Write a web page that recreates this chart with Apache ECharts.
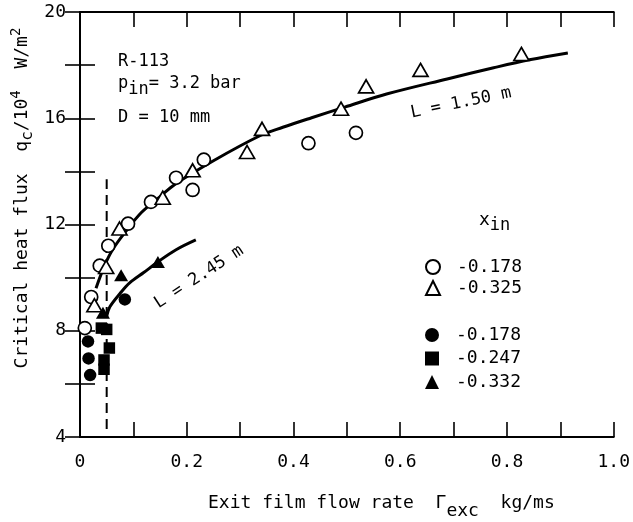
<!DOCTYPE html>
<html>
<head>
<meta charset="utf-8">
<script src="https://cdn.jsdelivr.net/npm/echarts@6/dist/echarts.min.js"></script>
<style>html,body{margin:0;padding:0;background:#fff}#c{width:633px;height:522px}</style>
</head>
<body>
<div id="c"></div>
<script>
// ---- data ----
const xTickValues = [0, 0.2, 0.4, 0.6, 0.8, 1.0];
const xTickLabels = ['0', '0.2', '0.4', '0.6', '0.8', '1.0'];
const yTickValues = [4, 8, 12, 16, 20];
const yTickLabels = ['4', '8', '12', '16', '20'];

// open circles, x_in = -0.178 (L = 1.50 m)
const openCircle = [[0.009,8.1],[0.021,9.27],[0.037,10.45],[0.053,11.2],[0.090,12.03],[0.133,12.85],[0.180,13.76],[0.211,13.3],[0.232,14.44],[0.428,15.06],[0.517,15.45]];
// open triangles, x_in = -0.325 (L = 1.50 m)
const openTriangle = [[0.027,8.96],[0.049,10.4],[0.074,11.85],[0.155,13.01],[0.211,14.04],[0.313,14.73],[0.341,15.6],[0.489,16.36],[0.536,17.2],[0.638,17.82],[0.827,18.42]];
// filled circles, x_in = -0.178 (L = 2.45 m)
const filledCircle = [[0.015,7.6],[0.016,6.96],[0.019,6.33],[0.084,9.18]];
// filled squares, x_in = -0.247
const filledSquare = [[0.040,8.1],[0.050,8.05],[0.055,7.35],[0.045,6.9],[0.045,6.55]];
// filled triangles, x_in = -0.332
const filledTriangle = [[0.043,8.68],[0.077,10.09],[0.146,10.59]];

// fitted curves
const curveL150 = [[0.030,9.6],[0.046,10.45],[0.061,11.05],[0.085,11.72],[0.115,12.45],[0.15,13.05],[0.177,13.5],[0.25,14.4],[0.338,15.35],[0.38,15.66],[0.434,16.02],[0.496,16.42],[0.576,16.92],[0.688,17.48],[0.775,17.9],[0.842,18.2],[0.914,18.46]];
const curveL245 = [[0.050,8.55],[0.056,8.9],[0.075,9.4],[0.093,9.8],[0.12,10.2],[0.145,10.58],[0.18,11.05],[0.217,11.42]];
// vertical dashed line
const dashedLine = [[0.05,4.3],[0.05,13.7]];

const legendNames = { oc: '-0.178', ot: '-0.325', fc: '-0.178', fs: '-0.247', ft: '-0.332' };

// ---- chart ----
const FONT = 'DejaVu Sans Mono';
const chart = echarts.init(document.getElementById('c'), null, { renderer: 'canvas' });

function lbl(list, labels) {
  return function (v) {
    const i = list.findIndex(t => Math.abs(t - v) < 1e-9);
    return i >= 0 ? labels[i] : '';
  };
}

const axisLine = { show: true, lineStyle: { color: '#000', width: 2 } };
const axisTick = { show: true, inside: true, length: 15, lineStyle: { color: '#000', width: 1.6 } };

const openStyle = { color: '#fff', borderColor: '#000', borderWidth: 1.7, opacity: 1 };
const fillStyle = { color: '#000', borderColor: '#000', borderWidth: 0, opacity: 1 };

chart.setOption({
  animation: false,
  backgroundColor: '#fff',
  grid: { left: 80, right: 15, top: 12, bottom: 85 },
  xAxis: [
    { type: 'value', min: 0, max: 1, interval: 0.1, position: 'bottom', axisLine, axisTick,
      splitLine: { show: false },
      axisLabel: { formatter: lbl(xTickValues, xTickLabels), color: '#000', fontFamily: FONT, fontSize: 18, margin: 16, showMaxLabel: true } },
    { type: 'value', min: 0, max: 1, interval: 0.1, position: 'top', axisLine, axisTick,
      splitLine: { show: false }, axisLabel: { show: false } }
  ],
  yAxis: [
    { type: 'value', min: 4, max: 20, interval: 2, position: 'left', axisLine, axisTick,
      splitLine: { show: false },
      axisLabel: { formatter: lbl(yTickValues, yTickLabels), color: '#000', fontFamily: FONT, fontSize: 18, margin: 14 } },
    { type: 'value', min: 4, max: 20, interval: 2, position: 'right', axisLine, axisTick,
      splitLine: { show: false }, axisLabel: { show: false } }
  ],
  legend: [
    { data: ['oc', 'ot'], orient: 'vertical', left: 420, top: 253, itemWidth: 14, itemHeight: 14, itemGap: 3,
      selectedMode: false, formatter: n => legendNames[n],
      textStyle: { fontFamily: FONT, fontSize: 18, color: '#000', lineHeight: 18, padding: [0, 0, 0, 12] } },
    { data: ['fc', 'fs', 'ft'], orient: 'vertical', left: 420, top: 321, itemWidth: 14, itemHeight: 14, itemGap: 5.5,
      selectedMode: false, formatter: n => legendNames[n],
      textStyle: { fontFamily: FONT, fontSize: 18, color: '#000', lineHeight: 18, padding: [0, 0, 0, 12] } }
  ],
  series: [
    { type: 'line', name: 'L150', data: curveL150, smooth: 0.35, showSymbol: false, z: 2,
      lineStyle: { color: '#000', width: 3 } },
    { type: 'line', name: 'L245', data: curveL245, smooth: 0.35, showSymbol: false, z: 2,
      lineStyle: { color: '#000', width: 3 } },
    { type: 'line', name: 'dash', data: dashedLine, showSymbol: false, z: 2,
      lineStyle: { color: '#000', width: 2, type: [10, 6] } },
    { type: 'scatter', z: 5, name: 'oc', data: openCircle, symbol: 'circle', symbolSize: 13, itemStyle: openStyle },
    { type: 'scatter', z: 5, name: 'ot', data: openTriangle, symbol: 'triangle', symbolSize: [15, 13], itemStyle: openStyle },
    { type: 'scatter', z: 5, name: 'fc', data: filledCircle, symbol: 'circle', symbolSize: 12.5, itemStyle: fillStyle },
    { type: 'scatter', z: 5, name: 'fs', data: filledSquare, symbol: 'rect', symbolSize: 11.5, itemStyle: fillStyle },
    { type: 'scatter', z: 5, name: 'ft', data: filledTriangle, symbol: 'triangle', symbolSize: [14, 12], itemStyle: fillStyle }
  ],
  graphic: [
    { type: 'text', x: 118, y: 62, style: { text: 'R-113', font: '17px ' + FONT, fill: '#000', verticalAlign: 'middle' } },
    { type: 'text', x: 118, y: 84, style: {
        text: '{a|p}{s|in}{a|= 3.2 bar}', verticalAlign: 'middle', fill: '#000',
        rich: { a: { font: '17px ' + FONT, fill: '#000' }, s: { font: '17px ' + FONT, fill: '#000', padding: [12, 0, 0, 0] } } } },
    { type: 'text', x: 118, y: 118, style: { text: 'D = 10 mm', font: '17px ' + FONT, fill: '#000', verticalAlign: 'middle' } },
    { type: 'text', x: 461, y: 103, rotation: 11.6 * Math.PI / 180, style: {
        text: 'L = 1.50 m', font: '17px ' + FONT, fill: '#000', align: 'center', verticalAlign: 'middle' } },
    { type: 'text', x: 199, y: 277, rotation: 33 * Math.PI / 180, style: {
        text: 'L = 2.45 m', font: '17px ' + FONT, fill: '#000', align: 'center', verticalAlign: 'middle' } },
    { type: 'text', x: 479, y: 220, style: {
        text: '{a|x}{s|in}', verticalAlign: 'middle', fill: '#000',
        rich: { a: { font: '18px ' + FONT, fill: '#000' }, s: { font: '17px ' + FONT, fill: '#000', padding: [12, 0, 0, 0] } } } },
    { type: 'text', x: 208, y: 503, style: {
        text: '{a|Exit film flow rate  Γ}{s|exc}{a|  kg/ms}', verticalAlign: 'middle', fill: '#000',
        rich: { a: { font: '18px ' + FONT, fill: '#000' }, s: { font: '18px ' + FONT, fill: '#000', padding: [16, 0, 0, 0] } } } },
    { type: 'text', x: 22, y: 198, rotation: Math.PI / 2, style: {
        text: '{a|Critical heat flux  q}{s|c}{a|/10}{p|4}{a|  W/m}{p|2}', align: 'center', verticalAlign: 'middle', fill: '#000',
        rich: { a: { font: '18px ' + FONT, fill: '#000' }, s: { font: '16px ' + FONT, fill: '#000', padding: [12, 0, 0, 0] },
                p: { font: '14px ' + FONT, fill: '#000', padding: [0, 0, 12, 0] } } } }
  ]
});
</script>
</body>
</html>
